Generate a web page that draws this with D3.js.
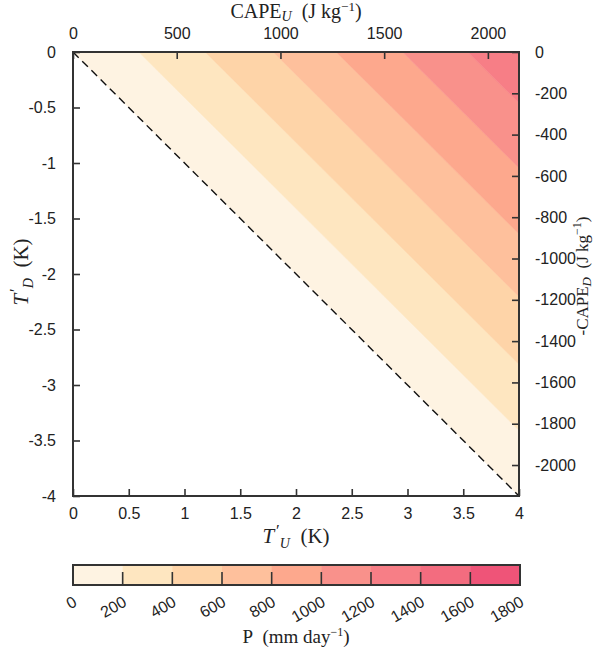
<!DOCTYPE html>
<html>
<head>
<meta charset="utf-8">
<script src="https://cdn.jsdelivr.net/npm/d3@7"></script>
<style>
  html, body { margin: 0; padding: 0; background: #fff; }
  svg text { fill: #222; }
</style>
</head>
<body>
<svg id="chart" width="596" height="655"></svg>
<script>
// Precipitation levels (mm/day) shown on the colour bar
const levels = [0, 200, 400, 600, 800, 1000, 1200, 1400, 1600, 1800];
const levelColors = ["#fef3e2", "#fee6c0", "#fed4a8", "#fec09c", "#fda88d",
                     "#f9918b", "#f77e86", "#f36c7f", "#ef5478"];
// T'_U + T'_D (K) at which P reaches each level
const levelCrossings = [0, 0.59, 1.185, 1.795, 2.36, 2.955, 3.54];

const tuTicks = [0, 0.5, 1, 1.5, 2, 2.5, 3, 3.5, 4];
const tdTicks = [0, -0.5, -1, -1.5, -2, -2.5, -3, -3.5, -4];
const capeUTicks = [0, 500, 1000, 1500, 2000];
const capeDTicks = [0, -200, -400, -600, -800, -1000, -1200, -1400, -1600, -1800, -2000];
const capeMax = 2150;

const svg = d3.select("#chart");
const frame = { left: 73, right: 519, top: 52, bottom: 496 };
const ink = "#333";
const sans = "'Liberation Sans', Arial, sans-serif";
const serif = "'Liberation Serif', 'Times New Roman', serif";

const x = d3.scaleLinear().domain([0, 4]).range([frame.left, frame.right]);
const y = d3.scaleLinear().domain([0, -4]).range([frame.top, frame.bottom]);
const xTop = d3.scaleLinear().domain([0, capeMax]).range([frame.left, frame.right]);
const yRight = d3.scaleLinear().domain([0, -capeMax]).range([frame.top, frame.bottom]);

svg.append("defs").append("clipPath").attr("id", "plot-clip")
  .append("rect")
  .attr("x", frame.left).attr("y", frame.top)
  .attr("width", frame.right - frame.left).attr("height", frame.bottom - frame.top);

// Filled bands between successive level crossings (lines of constant T'_U + T'_D)
const bands = levelCrossings.map((a, i) => ({
  a, b: i + 1 < levelCrossings.length ? levelCrossings[i + 1] : 8, color: levelColors[i]
}));
const line = d3.line().x(d => x(d[0])).y(d => y(d[1]));
svg.append("g").attr("clip-path", "url(#plot-clip)")
  .selectAll("path").data(bands).join("path")
  .attr("d", d => line([[d.a, 0], [d.b, 0], [d.b + 4, -4], [d.a + 4, -4]]) + "Z")
  .attr("fill", d => d.color)
  .attr("stroke", d => d.color)
  .attr("stroke-width", 0.5);

// Zero line T'_U + T'_D = 0
svg.append("path")
  .attr("d", line([[0, 0], [4, -4]]))
  .attr("stroke", "#111").attr("stroke-width", 1.4)
  .attr("stroke-dasharray", "8,5").attr("fill", "none");

// Axes with inward ticks
const tickLen = 7;
function styleAxis(g) {
  g.select(".domain").remove();
  g.selectAll(".tick line").attr("stroke", ink).attr("stroke-width", 1.6);
  g.selectAll(".tick text").attr("font-family", sans).attr("font-size", 16).attr("fill", "#222");
}
const fmt = d => String(d);

svg.append("g").attr("transform", `translate(0,${frame.bottom})`)
  .call(d3.axisBottom(x).tickValues(tuTicks).tickFormat(fmt).tickSizeInner(-tickLen).tickSizeOuter(0).tickPadding(12))
  .call(styleAxis);
svg.append("g").attr("transform", `translate(${frame.left},0)`)
  .call(d3.axisLeft(y).tickValues(tdTicks).tickFormat(fmt).tickSizeInner(-tickLen).tickSizeOuter(0).tickPadding(17))
  .call(styleAxis);
svg.append("g").attr("transform", `translate(0,${frame.top})`)
  .call(d3.axisTop(xTop).tickValues(capeUTicks).tickFormat(fmt).tickSizeInner(-tickLen).tickSizeOuter(0).tickPadding(13))
  .call(styleAxis);
svg.append("g").attr("transform", `translate(${frame.right},0)`)
  .call(d3.axisRight(yRight).tickValues(capeDTicks).tickFormat(fmt).tickSizeInner(-tickLen).tickSizeOuter(0).tickPadding(16))
  .call(styleAxis);

// Frame
svg.append("rect")
  .attr("x", frame.left).attr("y", frame.top)
  .attr("width", frame.right - frame.left).attr("height", frame.bottom - frame.top)
  .attr("fill", "none").attr("stroke", ink).attr("stroke-width", 2);

// Axis titles
function addPrimed(t, sub) {
  t.append("tspan").attr("font-style", "italic").text("T");
  t.append("tspan").attr("font-size", 17).attr("dy", -7).attr("dx", 2).text("′");
  t.append("tspan").attr("font-size", 14).attr("font-style", "italic").attr("dy", 12).text(sub);
  t.append("tspan").attr("dy", -5).text("\u2002(K)");
}
function addCape(t, prefix, sub, subSize) {
  t.append("tspan").text(prefix + "CAPE");
  t.append("tspan").attr("font-size", subSize).attr("font-style", "italic").attr("dy", 3).text(sub);
  t.append("tspan").attr("dy", -3).text("\u2002(J kg");
  t.append("tspan").attr("font-size", subSize - 1).attr("dy", -7).text("−1");
  t.append("tspan").attr("dy", 7).text(")");
}

addCape(svg.append("text").attr("x", 296).attr("y", 18)
  .attr("text-anchor", "middle").attr("font-family", serif).attr("font-size", 20), "", "U", 14);

addPrimed(svg.append("text").attr("x", 296).attr("y", 543)
  .attr("text-anchor", "middle").attr("font-family", serif).attr("font-size", 21), "U");

addPrimed(svg.append("text").attr("transform", "translate(28,272) rotate(-90)")
  .attr("text-anchor", "middle").attr("font-family", serif).attr("font-size", 21), "D");

addCape(svg.append("text").attr("transform", "translate(588,276) rotate(-90)")
  .attr("text-anchor", "middle").attr("font-family", serif).attr("font-size", 17), "-", "D", 13);

// Colour bar
const cb = { left: 73, right: 520, top: 565, bottom: 585 };
const xc = d3.scaleLinear().domain([levels[0], levels[levels.length - 1]]).range([cb.left, cb.right]);
const cbg = svg.append("g");
cbg.selectAll("rect").data(levelColors).join("rect")
  .attr("x", (d, i) => xc(levels[i]))
  .attr("width", (d, i) => xc(levels[i + 1]) - xc(levels[i]) + 0.5)
  .attr("y", cb.top).attr("height", cb.bottom - cb.top)
  .attr("fill", d => d);
cbg.selectAll("line").data(levels.slice(1, -1)).join("line")
  .attr("x1", d => xc(d)).attr("x2", d => xc(d))
  .attr("y1", cb.bottom).attr("y2", cb.bottom - 13)
  .attr("stroke", ink).attr("stroke-width", 1.6);
cbg.append("rect")
  .attr("x", cb.left).attr("y", cb.top)
  .attr("width", cb.right - cb.left).attr("height", cb.bottom - cb.top)
  .attr("fill", "none").attr("stroke", ink).attr("stroke-width", 2);
cbg.selectAll("text").data(levels).join("text")
  .attr("transform", d => `translate(${xc(d) + 5},${cb.bottom + 20}) rotate(-30)`)
  .attr("text-anchor", "end")
  .attr("font-family", sans).attr("font-size", 16)
  .text(d => d);

const pl = svg.append("text").attr("x", 296).attr("y", 643)
  .attr("text-anchor", "middle").attr("font-family", serif).attr("font-size", 19);
pl.append("tspan").text("P\u2002(mm day");
pl.append("tspan").attr("font-size", 12).attr("dy", -7).text("−1");
pl.append("tspan").attr("dy", 7).text(")");
</script>
</body>
</html>
